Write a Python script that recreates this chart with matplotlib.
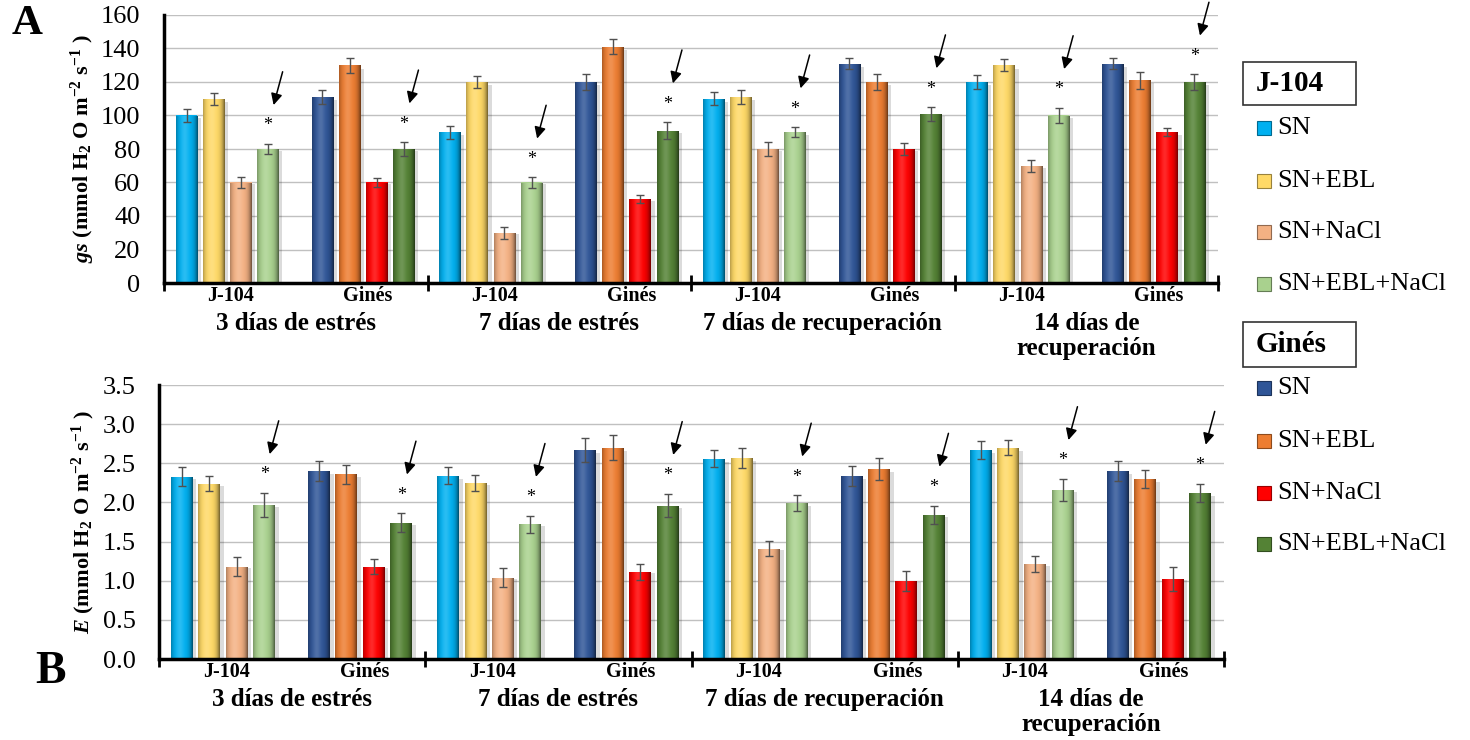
import numpy as np
import matplotlib
matplotlib.use("Agg")
import matplotlib.pyplot as plt
import matplotlib.colors as mcolors
import matplotlib.transforms as mtransforms
from matplotlib.patches import Rectangle

plt.rcParams['font.family'] = ['Liberation Serif', 'DejaVu Serif']
plt.rcParams['mathtext.fontset'] = 'custom'
plt.rcParams['mathtext.rm'] = 'Liberation Serif:bold'
plt.rcParams['mathtext.it'] = 'Liberation Serif:italic:bold'
plt.rcParams['mathtext.bf'] = 'Liberation Serif:bold'

# ---------------- data ----------------
periods = ['3 días de estrés', '7 días de estrés', '7 días de recuperación',
           '14 días de\nrecuperación']
cultivars = ['J-104', 'Ginés']
treatments = ['SN', 'SN+EBL', 'SN+NaCl', 'SN+EBL+NaCl']

# stomatal conductance gs (mmol H2O m-2 s-1), one row per period
gs_j104 = [[100, 110, 60, 80], [90, 120, 30, 60], [110, 111, 80, 90], [120, 130, 70, 100]]
gs_gines = [[111, 130, 60, 80], [120, 141, 50, 91], [131, 120, 80, 101], [131, 121, 90, 120]]
gs_j104_err = [[4, 3.5, 3.5, 3], [4, 3.5, 3.5, 3], [4, 4, 4, 3], [4, 3.5, 3.5, 4.5]]
gs_gines_err = [[4, 4.5, 2.5, 4], [4.5, 4.5, 2.5, 5], [3.5, 4.5, 3.5, 4], [3.5, 5, 2.5, 4.5]]

# transpiration E (mmol H2O m-2 s-1)
E_j104 = [[2.33, 2.24, 1.18, 1.97], [2.34, 2.25, 1.04, 1.72], [2.56, 2.57, 1.41, 1.99], [2.67, 2.70, 1.21, 2.16]]
E_gines = [[2.40, 2.36, 1.18, 1.74], [2.67, 2.70, 1.11, 1.96], [2.34, 2.43, 1.00, 1.84], [2.40, 2.30, 1.02, 2.12]]
E_j104_err = [[0.12, 0.10, 0.12, 0.15], [0.11, 0.10, 0.12, 0.11], [0.11, 0.13, 0.10, 0.10], [0.12, 0.10, 0.10, 0.14]]
E_gines_err = [[0.13, 0.12, 0.10, 0.12], [0.15, 0.16, 0.10, 0.15], [0.13, 0.14, 0.13, 0.12], [0.13, 0.12, 0.15, 0.12]]

# treatment marked as significant (asterisk + arrow)
marked_treatment = 'SN+EBL+NaCl'

colors_j104 = ['#00B0F0', '#FFD966', '#F4B183', '#A9D18E']
colors_gines = ['#2F5597', '#ED7D31', '#FF0000', '#548235']

# ---------------- layout ----------------
W = 9.7                       # width of one period on the x axis
group_start = [0.83, 5.83]    # first bar centre of each cultivar within a period
label_pos = [2.45, 7.5]       # cultivar label centre within a period
bar_w = 0.8

fig = plt.figure(figsize=(14.7, 7.4), dpi=100)
FW, FH = 1470, 740


def fig_rect(x0, y0, x1, y1):
    return [x0 / FW, 1 - y1 / FH, (x1 - x0) / FW, (y1 - y0) / FH]


ax_top = fig.add_axes(fig_rect(164, 15, 1218, 283))
ax_bot = fig.add_axes(fig_rect(159, 385, 1224, 659))


def shade(color, n=48):
    """Cylinder-like horizontal shading: dark rims, slightly lighter core."""
    rgb = np.array(mcolors.to_rgb(color))
    t = np.linspace(0, 1, n)
    dark = 0.55 * (np.abs(t - 0.45) / 0.55) ** 3.5
    light = 0.16 * np.exp(-((t - 0.40) / 0.18) ** 2)
    col = rgb[None, :] * (1 - dark[:, None])
    col = col + (1 - col) * light[:, None]
    return np.clip(col, 0, 1)[None, :, :]


def draw_panel(ax, vj, vg, ej, eg, ymax, ystep, fmt, ylabel, label_x):
    for c, (vals, errs, cols) in enumerate([(vj, ej, colors_j104), (vg, eg, colors_gines)]):
        for p in range(len(periods)):
            xs = [p * W + group_start[c] + k for k in range(len(treatments))]
            # soft drop shadow to the right of each bar
            for x, v in zip(xs, vals[p]):
                ax.add_patch(Rectangle((x - bar_w / 2 + 0.13, 0), bar_w, v * 0.985,
                                       color='black', alpha=0.14, lw=0, zorder=1.8))
            bars = ax.bar(xs, vals[p], width=bar_w, color=cols, lw=0, zorder=2)
            for patch, col in zip(bars.patches, cols):
                x0, y0 = patch.get_x(), patch.get_y()
                img = ax.imshow(shade(col), extent=[x0, x0 + patch.get_width(), y0,
                                                    y0 + patch.get_height()],
                                aspect='auto', interpolation='bilinear', zorder=2.1)
                img.set_clip_path(patch)
            ax.errorbar(xs, vals[p], yerr=errs[p], fmt='none', ecolor='#505050',
                        elinewidth=1.0, capsize=3.2, capthick=1.0, zorder=4)
            # asterisk and arrow over the marked treatment
            k = treatments.index(marked_treatment)
            xm, top = xs[k], vals[p][k] + errs[p][k]
            star_tr = mtransforms.offset_copy(ax.transData, fig=fig, x=0, y=13.0, units='points')
            ax.text(xm, top, '*', transform=star_tr, ha='center', va='center',
                    fontsize=13, zorder=5)
            tip_tr = mtransforms.offset_copy(ax.transData, fig=fig, x=4.0, y=28.0, units='points')
            ax.annotate('', xy=(xm, top), xycoords=tip_tr, xytext=(6.5, 24),
                        textcoords='offset points', annotation_clip=False,
                        arrowprops=dict(arrowstyle='-|>', color='black', lw=1.1,
                                        mutation_scale=17, shrinkA=0, shrinkB=0))

    ax.set_xlim(0, W * len(periods))
    ax.set_ylim(0, ymax)
    ticks = np.arange(0, ymax + ystep / 2, ystep)
    ax.set_yticks(ticks)
    ax.set_yticklabels([fmt.format(v) for v in ticks])
    ax.tick_params(axis='y', length=0, pad=17, labelsize=19)
    ax.set_xticks([W * i for i in range(len(periods) + 1)])
    ax.set_xticklabels([])
    ax.tick_params(axis='x', direction='inout', length=12, width=2)
    ax.yaxis.grid(True, color='#C0C0C0', lw=1.0)
    ax.set_axisbelow(True)
    for s in ('top', 'right'):
        ax.spines[s].set_visible(False)
    for s in ('left', 'bottom'):
        ax.spines[s].set_linewidth(2.5)
    ax.set_ylabel(ylabel, fontsize=16, fontweight='bold')
    ax.yaxis.set_label_coords(label_x, 0.5)

    for p, name in enumerate(periods):
        for c, cname in enumerate(cultivars):
            ax.annotate(cname, xy=(p * W + label_pos[c], 0), xycoords=('data', 'axes fraction'),
                        xytext=(0, -9.2), textcoords='offset points', ha='center',
                        va='center', fontsize=14.5, fontweight='bold')
        if '\n' in name:
            ax.annotate(name, xy=(p * W + W / 2, 0), xycoords=('data', 'axes fraction'),
                        xytext=(0, -21), textcoords='offset points', ha='center', va='top',
                        fontsize=18, fontweight='bold', linespacing=1.12)
        else:
            ax.annotate(name, xy=(p * W + W / 2, 0), xycoords=('data', 'axes fraction'),
                        xytext=(0, -29), textcoords='offset points', ha='center', va='center',
                        fontsize=18, fontweight='bold')


draw_panel(ax_top, gs_j104, gs_gines, gs_j104_err, gs_gines_err, 160, 20, '{:.0f}',
           r'$gs$ (mmol H$_{2}$ O m$^{-2}$ s$^{-1}$ )', -0.064)
draw_panel(ax_bot, E_j104, E_gines, E_j104_err, E_gines_err, 3.5, 0.5, '{:.1f}',
           r'$E$ (mmol H$_{2}$ O m$^{-2}$ s$^{-1}$ )', -0.058)

# panel letters
fig.text(27 / FW, 1 - 24 / FH, 'A', fontsize=31, fontweight='bold', ha='center', va='center')
fig.text(50 / FW, 1 - 672 / FH, 'B', fontsize=33, fontweight='bold', ha='center', va='center')


# ---------------- legends ----------------
def legend_block(title, box_y0, box_y1, rows, cols):
    fig.add_artist(Rectangle((1243 / FW, 1 - box_y1 / FH), 113 / FW, (box_y1 - box_y0) / FH,
                             transform=fig.transFigure, fill=False, ec='#333333', lw=1.2))
    fig.text(1256 / FW, 1 - (box_y0 + box_y1) / 2 / FH, title, fontsize=21,
             fontweight='bold', ha='left', va='center')
    for y, name, col in zip(rows, treatments, cols):
        fig.add_artist(Rectangle((1257 / FW, 1 - (y + 7) / FH), 14 / FW, 14 / FH,
                                 transform=fig.transFigure, fc=col,
                                 ec=mcolors.to_hex(np.array(mcolors.to_rgb(col)) * 0.6), lw=0.8))
        fig.text(1277 / FW, 1 - y / FH, name, fontsize=19, ha='left', va='center')


legend_block('J-104', 62, 105, [128, 181, 232, 284], colors_j104)
legend_block('Ginés', 322, 367, [388, 441, 493, 544], colors_gines)

fig.savefig('out.png', dpi=100)
